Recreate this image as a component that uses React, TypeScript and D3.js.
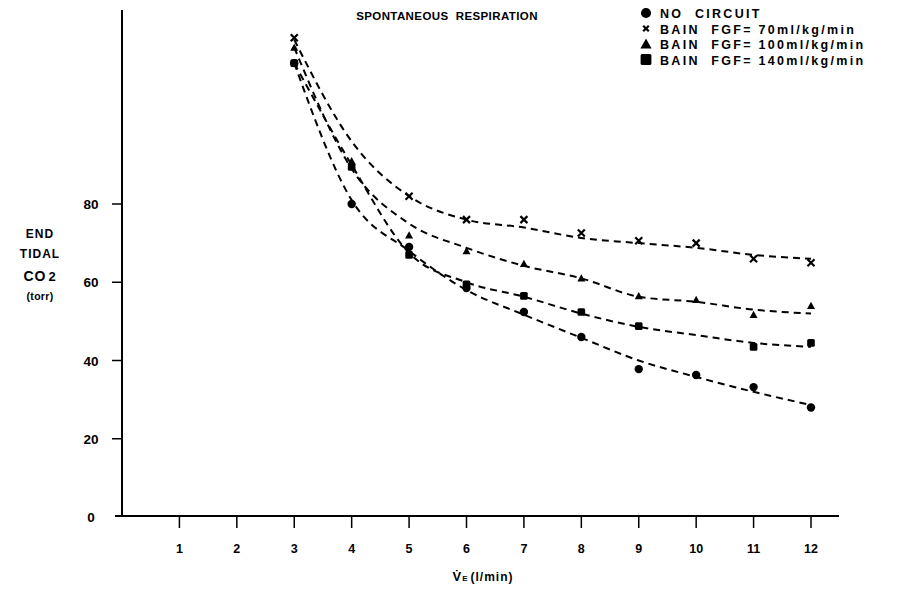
import { useEffect, useRef } from 'react';
import * as d3 from 'd3';

// x = minute ventilation (l/min), y = end tidal CO2 (torr)
const X_TICKS = [1, 2, 3, 4, 5, 6, 7, 8, 9, 10, 11, 12];
const Y_TICKS = [0, 20, 40, 60, 80];

// measured points
const noCircuit: [number, number][] = [
  [3, 116], [4, 80], [5, 69], [6, 58.5], [7, 52.4], [8, 46], [9, 37.8], [10, 36.3], [11, 33.2], [12, 28],
];
const bain70: [number, number][] = [
  [3, 122.5], [5, 82], [6, 76], [7, 76], [8, 72.6], [9, 70.6], [10, 70], [11, 66], [12, 65],
];
const bain100: [number, number][] = [
  [3, 120], [4, 91], [5, 72], [6, 68], [7, 64.7], [8, 61], [9, 56.5], [10, 55.5], [11, 51.7], [12, 54],
];
const bain140: [number, number][] = [
  [3, 116], [4, 89.5], [5, 67], [6, 59.5], [7, 56.5], [8, 52.4], [9, 48.8], [11, 43.5], [12, 44.5],
];

// hand-drawn fit lines
const fitNoCircuit: [number, number][] = [
  [3, 116], [4, 81], [5, 68], [6, 58], [7, 51.7], [8, 45.8], [9, 40], [10, 35.8], [11, 32], [12, 28.6],
];
const fit70: [number, number][] = [
  [3, 122], [4, 96], [5, 82], [6, 76], [7, 74], [8, 71.3], [9, 70], [10, 68.8], [11, 67], [12, 66],
];
const fit100: [number, number][] = [
  [3, 120], [4, 89], [5, 75], [6, 68.8], [7, 64.2], [8, 61], [9, 56.3], [10, 55], [11, 53], [12, 52],
];
const fit140: [number, number][] = [
  [3, 116], [4, 90], [5, 67.5], [6, 60], [7, 56.3], [8, 52], [9, 48.6], [10, 46.5], [11, 44.5], [12, 43.5],
];

const LEGEND = [
  { label: 'NO  CIRCUIT', shape: 'circle' },
  { label: 'BAIN  FGF= 70ml/kg/min', shape: 'cross' },
  { label: 'BAIN  FGF= 100ml/kg/min', shape: 'triangle' },
  { label: 'BAIN  FGF= 140ml/kg/min', shape: 'square' },
];

const FONT = '"Liberation Sans", Arial, sans-serif';

export default function App() {
  const ref = useRef<SVGSVGElement>(null);

  useEffect(() => {
    if (!ref.current) return;
    const svg = d3.select(ref.current);
    svg.selectAll('*').remove();

    const x = d3.scaleLinear().domain([0, 12]).range([122, 811]);
    const y = d3.scaleLinear().domain([0, 80]).range([517, 204]);

    // axes
    svg.append('line').attr('x1', 122).attr('x2', 122).attr('y1', 10).attr('y2', y(0))
      .attr('stroke', '#000').attr('stroke-width', 2);
    svg.append('line').attr('x1', 115).attr('x2', 839).attr('y1', y(0) - 1).attr('y2', y(0) - 1)
      .attr('stroke', '#000').attr('stroke-width', 2.2);

    X_TICKS.forEach(t => {
      svg.append('line').attr('x1', x(t)).attr('x2', x(t)).attr('y1', y(0)).attr('y2', y(0) + 11)
        .attr('stroke', '#000').attr('stroke-width', 1.5);
      svg.append('text').attr('x', x(t)).attr('y', 553).attr('text-anchor', 'middle')
        .attr('font-family', FONT).attr('font-weight', 'bold').attr('font-size', 12.5)
        .text(String(t));
    });
    Y_TICKS.forEach(t => {
      if (t > 0) {
        svg.append('line').attr('x1', 112).attr('x2', 122).attr('y1', y(t)).attr('y2', y(t))
          .attr('stroke', '#000').attr('stroke-width', 1.5);
      }
      svg.append('text').attr('x', 91).attr('y', y(t) + 5).attr('text-anchor', 'middle')
        .attr('font-family', FONT).attr('font-weight', 'bold').attr('font-size', 13.5)
        .text(String(t));
    });

    // y label
    const yl = svg.append('g').attr('font-family', FONT).attr('font-weight', 'bold')
      .attr('text-anchor', 'middle').attr('letter-spacing', 1);
    yl.append('text').attr('x', 40).attr('y', 238).attr('font-size', 12).text('END');
    yl.append('text').attr('x', 40).attr('y', 258).attr('font-size', 12).text('TIDAL');
    const co = yl.append('text').attr('x', 40).attr('y', 281).attr('font-size', 14);
    co.append('tspan').text('CO');
    co.append('tspan').attr('font-size', 13).attr('dx', 2).text('2');
    yl.append('text').attr('x', 40).attr('y', 300).attr('font-size', 10.5)
      .attr('letter-spacing', 0.3).text('(torr)');

    // x label
    const xl = svg.append('text').attr('x', 483).attr('y', 581).attr('text-anchor', 'middle')
      .attr('font-family', FONT).attr('font-weight', 'bold').attr('font-size', 12)
      .attr('letter-spacing', 1);
    xl.append('tspan').attr('font-size', 13).text('V\u0307');
    xl.append('tspan').attr('font-size', 8).text('E');
    xl.append('tspan').attr('dx', 2).text('(l/min)');

    // title
    svg.append('text').attr('x', 447).attr('y', 20).attr('text-anchor', 'middle')
      .attr('font-family', FONT).attr('font-weight', 'bold').attr('font-size', 11.5)
      .attr('letter-spacing', 0.4).attr('xml:space', 'preserve').style('white-space', 'pre')
      .text('SPONTANEOUS  RESPIRATION');

    // fit curves
    const line = d3.line<[number, number]>().x(d => x(d[0])).y(d => y(d[1])).curve(d3.curveMonotoneX);
    [fitNoCircuit, fit70, fit100, fit140].forEach(f => {
      svg.append('path').attr('d', line(f)).attr('fill', 'none').attr('stroke', '#000')
        .attr('stroke-width', 2).attr('stroke-dasharray', '7,5');
    });

    const drawMarker = (g: d3.Selection<SVGGElement, unknown, null, undefined>, shape: string, cx: number, cy: number, s: number) => {
      if (shape === 'circle') {
        g.append('circle').attr('cx', cx).attr('cy', cy).attr('r', 4.2 * s).attr('fill', '#000');
      } else if (shape === 'square') {
        g.append('rect').attr('x', cx - 4.5 * s).attr('y', cy - 4.5 * s).attr('width', 9 * s).attr('height', 9 * s)
          .attr('rx', 1.5).attr('fill', '#000');
      } else if (shape === 'triangle') {
        const h = 4 * s;
        g.append('path').attr('d', `M${cx},${cy - h}L${cx + h},${cy + h * 0.8}L${cx - h},${cy + h * 0.8}Z`).attr('fill', '#000');
      } else {
        const h = 3.5 * s;
        g.append('path').attr('d', `M${cx - h},${cy - h}L${cx + h},${cy + h}M${cx + h},${cy - h}L${cx - h},${cy + h}`)
          .attr('stroke', '#000').attr('stroke-width', 2.2);
      }
    };

    const pts = svg.append('g');
    const series: [string, [number, number][]][] = [
      ['circle', noCircuit], ['cross', bain70], ['triangle', bain100], ['square', bain140],
    ];
    series.forEach(([shape, data]) => {
      data.forEach(d => drawMarker(pts, shape, x(d[0]), y(d[1]), shape === 'square' ? 0.85 : 1));
    });

    // legend
    const lg = svg.append('g');
    LEGEND.forEach((l, i) => {
      const cy = 13 + i * 15.5;
      drawMarker(lg, l.shape, 646, cy, l.shape === 'triangle' ? 1.4 : l.shape === 'cross' ? 0.8 : 1.2);
      lg.append('text').attr('x', 660).attr('y', cy + 5).attr('font-family', FONT)
        .attr('font-weight', 'bold').attr('font-size', 12.5).attr('letter-spacing', 2.3)
        .attr('xml:space', 'preserve').style('white-space', 'pre').text(l.label);
    });
  }, []);

  return (
    <svg ref={ref} width={898} height={589}
      style={{ position: 'absolute', left: 0, top: 0, background: '#fff' }} />
  );
}
